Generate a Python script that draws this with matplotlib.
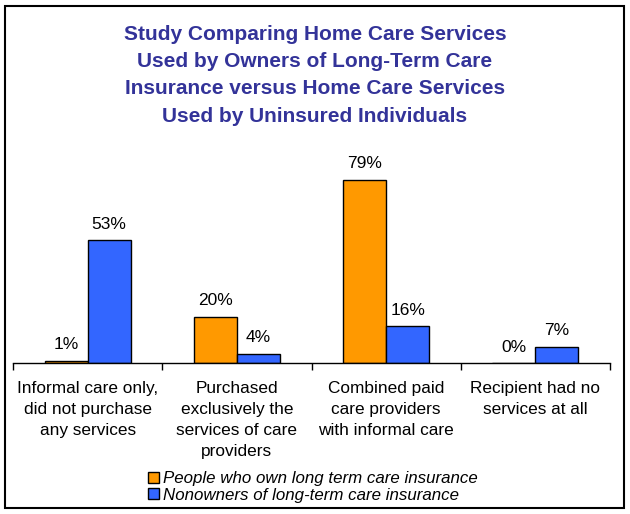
import matplotlib.pyplot as plt
from matplotlib.patches import Patch, Rectangle
import numpy as np

plt.rcParams['font.family'] = ['Liberation Sans', 'DejaVu Sans']

# data
categories = ['Informal care only,\ndid not purchase\nany services',
              'Purchased\nexclusively the\nservices of care\nproviders',
              'Combined paid\ncare providers\nwith informal care',
              'Recipient had no\nservices at all']
owners = [1, 20, 79, 0]
nonowners = [53, 4, 16, 7]
series_names = ['People who own long term care insurance',
                'Nonowners of long-term care insurance']
title = ('Study Comparing Home Care Services\nUsed by Owners of Long-Term Care\n'
         'Insurance versus Home Care Services\nUsed by Uninsured Individuals')

orange = '#FF9900'
blue = '#3366FF'

W, H = 630, 514
fig = plt.figure(figsize=(W / 100, H / 100), dpi=100)
fig.patches.append(Rectangle((5 / W, 6 / H), 619 / W, 502 / H, transform=fig.transFigure,
                             fill=False, edgecolor='black', linewidth=1.5))

# axes: baseline at y=363px, x from 13 to 610, 2.32 px per percent
ymax = 85
base = 363
top = base - ymax * 2.32
ax = fig.add_axes([13 / W, (H - base) / H, 597 / W, (base - top) / H])

x = np.arange(len(categories)) + 0.5
bw = 0.288
b1 = ax.bar(x - bw / 2, owners, bw, color=orange, edgecolor='black', linewidth=1)
b2 = ax.bar(x + bw / 2, nonowners, bw, color=blue, edgecolor='black', linewidth=1)

for bars, vals in ((b1, owners), (b2, nonowners)):
    for b, v in zip(bars, vals):
        ax.annotate(f'{v}%', (b.get_x() + b.get_width() / 2, v), xytext=(0, 6),
                    textcoords='offset points', ha='center', va='bottom',
                    fontsize=12.5, clip_on=False)

ax.set_xlim(0, len(categories))
ax.set_ylim(0, ymax)
for s in ['top', 'left', 'right']:
    ax.spines[s].set_visible(False)
ax.spines['bottom'].set_linewidth(1)
ax.set_yticks([])
ax.set_xticks(np.arange(len(categories) + 1))
ax.set_xticklabels([])
ax.tick_params(axis='x', which='major', length=5, width=1, direction='out')
ax.set_xticks(x, minor=True)
ax.set_xticklabels(categories, minor=True, fontsize=12.4, linespacing=1.5)
ax.tick_params(axis='x', which='minor', length=0, pad=13)

fig.text(315 / W, 1 - 25 / H, title, ha='center', va='top', fontsize=15,
         fontweight='bold', color='#333399', linespacing=1.55)

handles = [Patch(facecolor=orange, edgecolor='black'), Patch(facecolor=blue, edgecolor='black')]
fig.legend(handles, series_names, loc='center', bbox_to_anchor=(313 / W, 1 - 487 / H),
           frameon=False, prop={'style': 'italic', 'size': 12.2},
           handlelength=0.65, handleheight=0.65, handletextpad=0.25, labelspacing=0.08,
           borderpad=0)

fig.savefig('out.png', dpi=100)
